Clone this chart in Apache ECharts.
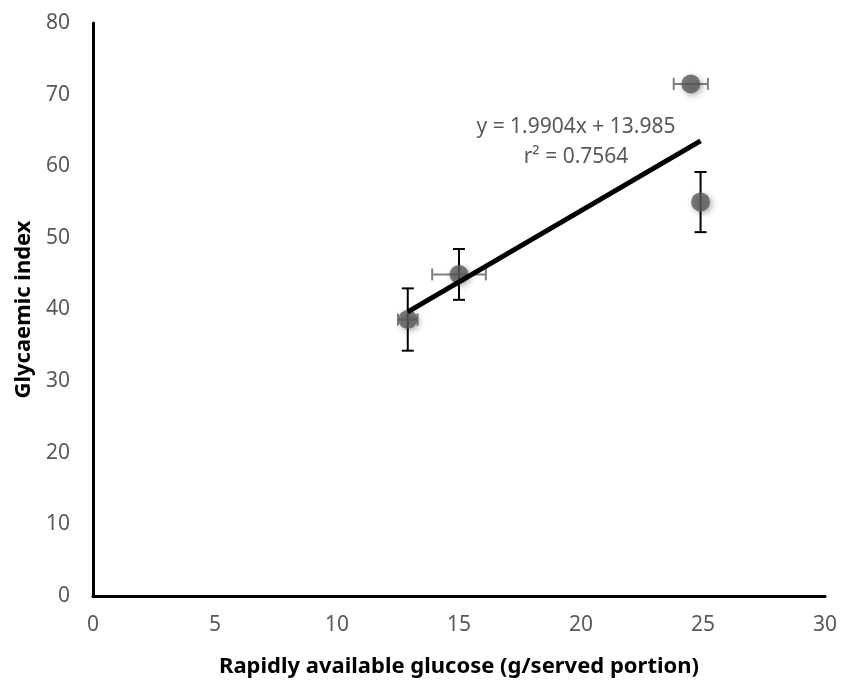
<!DOCTYPE html>
<html><head><meta charset="utf-8">
<script src="https://cdn.jsdelivr.net/npm/echarts@6/dist/echarts.min.js"></script>
<style>html,body{margin:0;padding:0;background:#fff}#c{width:843px;height:683px}</style>
</head><body><div id="c"></div>
<script>
const glucose = [12.9, 15.0, 24.5, 24.9];
const gi = [38.6, 44.9, 71.5, 55.0];
const glucoseErr = [0.4, 1.1, 0.7, 0];
const giErr = [4.35, 3.55, 0, 4.2];
const trend = [1.9904, 13.985]; // slope, intercept
const trendText = ['y = 1.9904x + 13.985', 'r\u00B2 = 0.7564'];
const xTicks = [0, 5, 10, 15, 20, 25, 30];
const yTicks = [0, 10, 20, 30, 40, 50, 60, 70, 80];

const FONT = 'Noto Sans';
const pts = glucose.map((x, i) => [x, gi[i]]);
const errData = glucose.map((x, i) => [x, gi[i], glucoseErr[i], giErr[i]]);
const xmin = Math.min(...glucose), xmax = Math.max(...glucose);
const trendLine = [[xmin, trend[0] * xmin + trend[1]], [xmax, trend[0] * xmax + trend[1]]];

const chart = echarts.init(document.getElementById('c'));
chart.setOption({
  animation: false,
  grid: {left: 93, top: 23, width: 732, height: 574},
  xAxis: {
    type: 'value', min: xTicks[0], max: xTicks[xTicks.length - 1], interval: 5,
    axisLine: {show: true, onZero: false, lineStyle: {color: '#000', width: 3}},
    axisTick: {show: false}, splitLine: {show: false},
    axisLabel: {color: '#595959', fontFamily: FONT, fontSize: 21, margin: 19},
    name: 'Rapidly available glucose (g/served portion)', nameLocation: 'middle', nameGap: 60,
    nameTextStyle: {color: '#000', fontFamily: FONT, fontSize: 22, fontWeight: 'bold'}
  },
  yAxis: {
    type: 'value', min: yTicks[0], max: yTicks[yTicks.length - 1], interval: 10,
    axisLine: {show: true, onZero: false, lineStyle: {color: '#000', width: 3}},
    axisTick: {show: false}, splitLine: {show: false},
    axisLabel: {color: '#595959', fontFamily: FONT, fontSize: 21, margin: 23},
    name: 'Glycaemic index', nameLocation: 'middle', nameGap: 57,
    nameTextStyle: {color: '#000', fontFamily: FONT, fontSize: 22, fontWeight: 'bold'}
  },
  series: [
    {
      type: 'custom', data: errData, z: 2,
      renderItem: function (params, api) {
        const x = api.value(0), y = api.value(1), ex = api.value(2), ey = api.value(3);
        const children = [];
        const cap = 6;
        if (ey > 0) {
          const top = api.coord([x, y + ey]), bot = api.coord([x, y - ey]);
          const st = {stroke: '#000', lineWidth: 2};
          children.push({type: 'line', shape: {x1: top[0], y1: top[1], x2: bot[0], y2: bot[1]}, style: st});
          children.push({type: 'line', shape: {x1: top[0] - cap, y1: top[1], x2: top[0] + cap, y2: top[1]}, style: st});
          children.push({type: 'line', shape: {x1: bot[0] - cap, y1: bot[1], x2: bot[0] + cap, y2: bot[1]}, style: st});
        }
        if (ex > 0) {
          const l = api.coord([x - ex, y]), r = api.coord([x + ex, y]);
          const st = {stroke: '#7f7f7f', lineWidth: 2};
          children.push({type: 'line', shape: {x1: l[0], y1: l[1], x2: r[0], y2: r[1]}, style: st});
          children.push({type: 'line', shape: {x1: l[0], y1: l[1] - cap, x2: l[0], y2: l[1] + cap}, style: st});
          children.push({type: 'line', shape: {x1: r[0], y1: r[1] - cap, x2: r[0], y2: r[1] + cap}, style: st});
        }
        return {type: 'group', children: children};
      }
    },
    {
      type: 'scatter', data: pts, symbolSize: 19, z: 3,
      itemStyle: {color: '#595959', shadowBlur: 6, shadowColor: 'rgba(0,0,0,0.4)', shadowOffsetX: 2, shadowOffsetY: 2}
    },
    {
      type: 'line', data: trendLine, symbol: 'none', z: 4,
      lineStyle: {color: '#000', width: 5}
    }
  ],
  graphic: [
    {type: 'text', x: 576, y: 127, z: 10, style: {text: trendText[0], fill: '#595959', font: '21px "' + FONT + '"', align: 'center', verticalAlign: 'middle'}},
    {type: 'text', x: 576, y: 157, z: 10, style: {text: trendText[1], fill: '#595959', font: '21px "' + FONT + '"', align: 'center', verticalAlign: 'middle'}}
  ]
});
</script></body></html>
